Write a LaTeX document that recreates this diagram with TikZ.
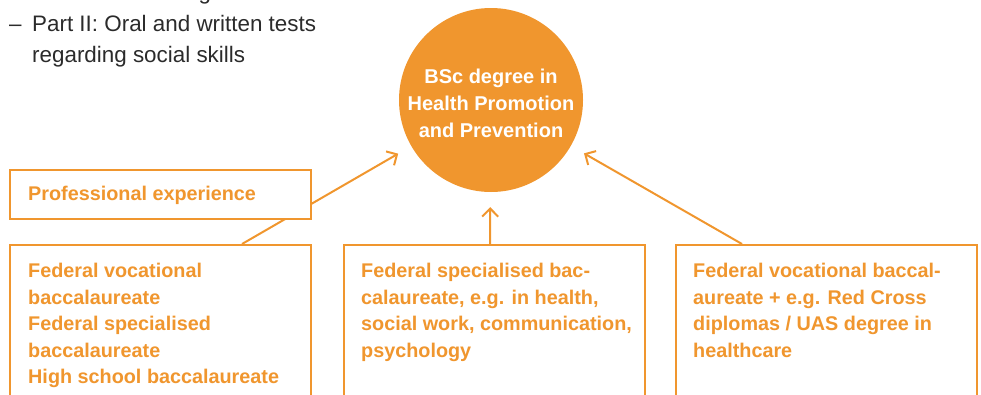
\documentclass[tikz,border=0pt]{standalone}
\usepackage{fontspec}
\setmainfont{Liberation Sans}
\usetikzlibrary{arrows.meta}
\definecolor{org}{HTML}{F0962E}
\definecolor{txtgray}{HTML}{2B2B2B}
\begin{document}
\begin{tikzpicture}[x=1pt,y=-1pt,
  box/.style={draw=org, line width=2pt, fill=white, anchor=north west, inner sep=0pt, minimum width=301pt},
  boxtext/.style={text=org, font=\bfseries\fontsize{19.8}{26.6}\selectfont, align=left, anchor=north west, inner sep=0pt},
  graytext/.style={text=txtgray, font=\fontsize{22.4}{31}\selectfont, anchor=base west, inner sep=0pt},
  arr/.style={draw=org, line width=2pt, -{Straight Barb[length=8pt,width=16pt]}, shorten >=15pt}]
\useasboundingbox (0,0) rectangle (981,394);
\clip (0,0) rectangle (981,394);

% gray list (partly cut at top)
\node[graytext] (d1) at (9,-0.5) {–};
\node[graytext] (t1) at (32,-0.5) {Part I: Written cognitive test};
\node[graytext] (d2) at (9,31.7) {–};
\node[graytext] (t2) at (32,31.7) {Part II: Oral and written tests};
\node[graytext] (t3) at (32,62.7) {regarding social skills};

% goal circle
\node[circle, fill=org, minimum size=184pt, inner sep=0pt] (c) at (491,100) {};
\node[text=white, font=\bfseries\fontsize{20}{27}\selectfont, align=center, inner sep=0pt] (ct) at (491,103)
  {BSc degree in\\Health Promotion\\and Prevention};

% lower boxes
\node[box, minimum height=200pt] (lb) at (9,244) {};
\node[box, minimum height=200pt] (mb) at (343,244) {};
\node[box, minimum height=200pt] (rb) at (675,244) {};

\node[boxtext] (lbt) at (28,263) {Federal vocational\\baccalaureate\\Federal specialised\\baccalaureate\\High school baccalaureate};
\node[boxtext] (mbt) at (361,263) {Federal specialised bac-\\calaureate, e.g. in health,\\social work, communication,\\psychology};
\node[boxtext] (rbt) at (693,263) {Federal vocational baccal-\\aureate + e.g. Red Cross\\diplomas / UAS degree in\\healthcare};

% connectors
\coordinate (ls) at ([xshift=233pt]lb.north west);
\coordinate (ms) at ([xshift=147pt]mb.north west);
\coordinate (rs) at ([xshift=67pt]rb.north west);
\draw[arr] (ls) -- (c);
\draw[arr] (ms) -- (c);
\draw[arr] (rs) -- (c);

% professional experience box (over the connector)
\node[box, minimum height=49pt] (pe) at (9,169) {};
\node[boxtext, anchor=base west] (pet) at (28,200) {Professional experience};
\end{tikzpicture}
\end{document}
